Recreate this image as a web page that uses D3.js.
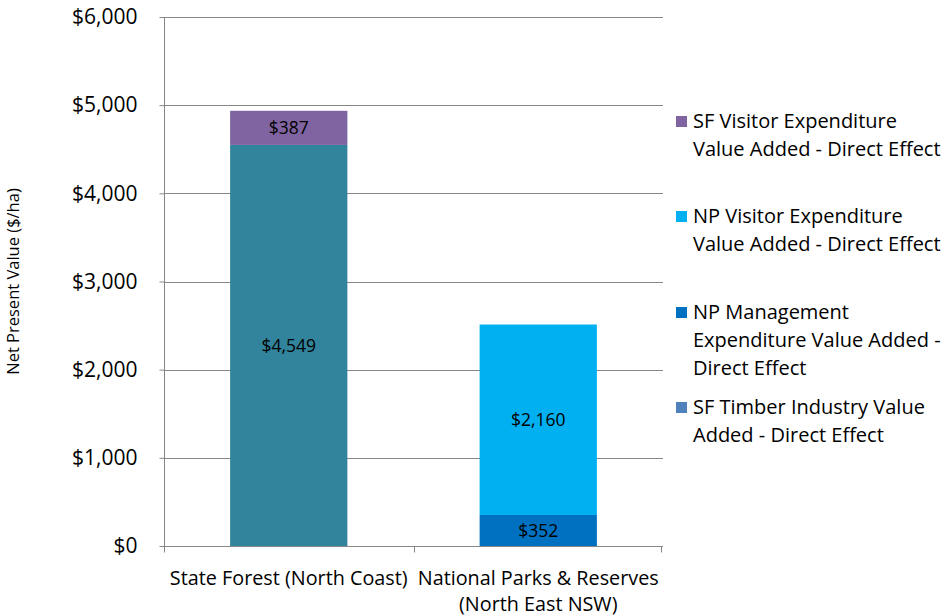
<!DOCTYPE html>
<html>
<head>
<meta charset="utf-8">
<script src="https://cdn.jsdelivr.net/npm/d3@7"></script>
<style>
  body { margin: 0; background: #fff; }
  svg { display: block; font-family: "Open Sans", sans-serif; }
</style>
</head>
<body>
<svg id="chart" width="943" height="616"></svg>
<script>
// Categories (x axis), each label split into lines
const categories = ["State Forest (North Coast)", "National Parks & Reserves (North East NSW)"];
const categoryLines = [["State Forest (North Coast)"], ["National Parks & Reserves", "(North East NSW)"]];

// Stacked series, bottom to top
const seriesNames = [
  "SF Timber Industry Value Added - Direct Effect",
  "NP Management Expenditure Value Added - Direct Effect",
  "NP Visitor Expenditure Value Added - Direct Effect",
  "SF Visitor Expenditure Value Added - Direct Effect"
];
const sfTimber = [4549, 0];
const npManagement = [0, 352];
const npVisitor = [0, 2160];
const sfVisitor = [387, 0];

// Legend entries, top to bottom, with their wrapped lines
const legendLines = [
  ["SF Visitor Expenditure", "Value Added - Direct Effect"],
  ["NP Visitor Expenditure", "Value Added - Direct Effect"],
  ["NP Management", "Expenditure Value Added -", "Direct Effect"],
  ["SF Timber Industry Value", "Added - Direct Effect"]
];
const legendKeys = [seriesNames[3], seriesNames[2], seriesNames[1], seriesNames[0]];

const yTicks = [0, 1000, 2000, 3000, 4000, 5000, 6000];

const barColors = {
  [seriesNames[0]]: "#31849B",
  [seriesNames[1]]: "#0070C0",
  [seriesNames[2]]: "#00B0F0",
  [seriesNames[3]]: "#8064A2"
};
const legendColors = {
  [seriesNames[0]]: "#4F81BD",
  [seriesNames[1]]: "#0070C0",
  [seriesNames[2]]: "#00B0F0",
  [seriesNames[3]]: "#8064A2"
};

const rows = categories.map((c, i) => ({
  category: c,
  [seriesNames[0]]: sfTimber[i],
  [seriesNames[1]]: npManagement[i],
  [seriesNames[2]]: npVisitor[i],
  [seriesNames[3]]: sfVisitor[i]
}));

const svg = d3.select("#chart");
const margin = { left: 164, top: 17 };
const plotW = 663 - margin.left;
const plotH = 546 - margin.top;

const x = d3.scaleBand().domain(categories).range([margin.left, margin.left + plotW])
  .paddingInner(0).paddingOuter(0);
const y = d3.scaleLinear().domain([0, 6000]).range([margin.top + plotH, margin.top]);
const barW = x.bandwidth() * 0.47;

const gridColor = "#868686";
const fmt = v => "$" + d3.format(",")(v);

// Gridlines
svg.append("g").selectAll("line").data(yTicks.filter(t => t > 0)).join("line")
  .attr("x1", margin.left).attr("x2", margin.left + plotW)
  .attr("y1", d => Math.round(y(d)) + 0.5).attr("y2", d => Math.round(y(d)) + 0.5)
  .attr("stroke", gridColor).attr("stroke-width", 1);

// Stacked bars
const stack = d3.stack().keys(seriesNames)(rows);
const layers = svg.append("g").selectAll("g").data(stack).join("g")
  .attr("fill", d => barColors[d.key]);
layers.selectAll("rect").data(d => d.filter(s => s[1] - s[0] > 0)).join("rect")
  .attr("x", d => x(d.data.category) + (x.bandwidth() - barW) / 2)
  .attr("width", barW)
  .attr("y", d => y(d[1]))
  .attr("height", d => y(d[0]) - y(d[1]));

// Value labels in segment centres
layers.selectAll("text").data(d => d.filter(s => s[1] - s[0] > 0)).join("text")
  .attr("x", d => x(d.data.category) + x.bandwidth() / 2)
  .attr("y", d => (y(d[0]) + y(d[1])) / 2)
  .attr("dy", "0.36em")
  .attr("text-anchor", "middle")
  .attr("font-size", 17.5)
  .attr("fill", "#000")
  .text(d => fmt(d[1] - d[0]));

// Y axis
const yAxis = svg.append("g").attr("transform", `translate(${margin.left + 0.5},0)`)
  .call(d3.axisLeft(y).tickValues(yTicks).tickFormat(fmt).tickSize(5).tickPadding(22));
yAxis.select(".domain").attr("stroke", gridColor).attr("d", `M0,${y(6000)}V${y(0)}`);
yAxis.selectAll(".tick line").attr("stroke", gridColor);
yAxis.selectAll(".tick text").attr("font-size", 21).attr("fill", "#000")
  .attr("font-family", "'Open Sans', sans-serif");

// X axis line and category boundary ticks
const baseY = Math.round(y(0)) + 0.5;
svg.append("line").attr("x1", margin.left).attr("x2", margin.left + plotW)
  .attr("y1", baseY).attr("y2", baseY).attr("stroke", gridColor);
const bounds = categories.map(c => x(c)).concat([margin.left + plotW - 2]);
svg.append("g").selectAll("line").data(bounds).join("line")
  .attr("x1", d => Math.round(d) + 0.5).attr("x2", d => Math.round(d) + 0.5)
  .attr("y1", baseY).attr("y2", baseY + 6).attr("stroke", gridColor);

// Category labels
const xl = svg.append("g").selectAll("text").data(categories).join("text")
  .attr("text-anchor", "middle").attr("font-size", 19.8).attr("fill", "#000")
  .attr("x", d => x(d) + x.bandwidth() / 2).attr("y", 585);
xl.each(function(d, i) {
  d3.select(this).selectAll("tspan").data(categoryLines[i]).join("tspan")
    .attr("x", x(d) + x.bandwidth() / 2)
    .attr("dy", (t, j) => j === 0 ? 0 : 26)
    .text(t => t);
});

// Y axis title
svg.append("text")
  .attr("transform", `translate(19,${margin.top + plotH / 2}) rotate(-90)`)
  .attr("text-anchor", "middle").attr("font-size", 16.5).attr("fill", "#000")
  .text("Net Present Value ($/ha)");

// Legend
const legendTop = [121, 216, 312, 407];
const lg = svg.append("g").selectAll("g").data(legendKeys).join("g")
  .attr("transform", (d, i) => `translate(676,${legendTop[i]})`);
lg.append("rect").attr("x", 0).attr("y", -5).attr("width", 11).attr("height", 11)
  .attr("fill", d => legendColors[d]);
lg.append("text").attr("font-size", 20).attr("fill", "#000")
  .attr("x", 17).attr("y", 0)
  .each(function(d, i) {
    d3.select(this).selectAll("tspan").data(legendLines[i]).join("tspan")
      .attr("x", 17).attr("dy", (t, j) => j === 0 ? "0.36em" : 28)
      .text(t => t);
  });
</script>
</body>
</html>
